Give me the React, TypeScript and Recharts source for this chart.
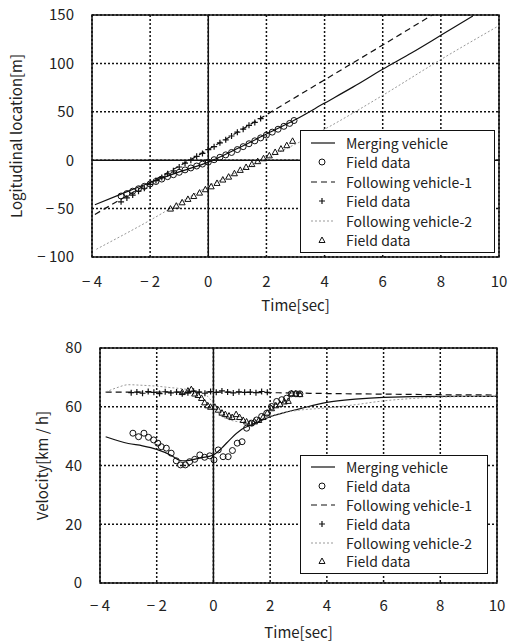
import React from 'react';
import {
  ComposedChart, Line, Scatter, XAxis, YAxis, CartesianGrid, ReferenceLine, ReferenceArea,
} from 'recharts';

const FONT = '"Noto Sans CJK JP", "Noto Sans", sans-serif';
const timeTicks = [-4, -2, 0, 2, 4, 6, 8, 10];
const locTicks = [-100, -50, 0, 50, 100, 150];
const velTicks = [0, 20, 40, 60, 80];

// --- Longitudinal location [m] ---
const mergingPosT = [-3.9, -3, -2, -1, 0, 1, 2, 3, 4, 5, 6, 7, 8, 9.1];
const mergingPos = [-46, -35, -23, -12, -2, 12, 27, 42, 59, 76, 94, 111, 129, 149];
const follow1PosT = [-3.9, -2, 0, 2, 4, 6, 7.7];
const follow1Pos = [-56, -23, 11, 47, 83, 119, 150];
const follow2PosT = [-3.85, -2, 0, 2, 4, 6, 8, 10];
const follow2Pos = [-92, -62, -27, 2, 32, 67, 104, 139];

const circlePosT = [-3.0, -2.8, -2.6, -2.4, -2.2, -2.0, -1.8, -1.6, -1.4, -1.2, -1.0, -0.8, -0.6, -0.4, -0.2, 0, 0.2, 0.4, 0.6, 0.8, 1.0, 1.2, 1.4, 1.6, 1.8, 2.0, 2.2, 2.4, 2.6, 2.8, 2.95];
const circlePos = [-37, -34.5, -32, -29.5, -27, -24.5, -22, -19.5, -17, -15, -12.5, -10, -8, -6, -4, -2, 0.5, 3, 5.5, 8, 11, 14, 17, 20, 23, 26, 29, 32, 35, 38, 41];
const plusPosT = [-3.0, -2.8, -2.6, -2.4, -2.2, -2.0, -1.8, -1.6, -1.4, -1.2, -1.0, -0.8, -0.6, -0.4, -0.2, 0, 0.2, 0.4, 0.6, 0.8, 1.0, 1.2, 1.4, 1.6, 1.8];
const plusPos = [-43, -39, -36, -32, -29, -25, -21, -18, -14, -11, -7, -3, 0, 4, 7, 11, 14, 18, 21, 25, 29, 32, 36, 39, 43];
const triPosT = [-1.3, -1.1, -0.9, -0.7, -0.5, -0.3, -0.1, 0.1, 0.3, 0.5, 0.7, 0.9, 1.1, 1.3, 1.5, 1.7, 1.9, 2.1, 2.3, 2.5, 2.7, 2.9];
const triPos = [-50, -47, -43.5, -40, -37, -33.5, -30, -27, -23.5, -20, -17, -13.5, -10, -7, -4, -1, 2, 5, 8.5, 12, 15.5, 20];

// --- Velocity [km/h] ---
const mergingVelT = [-3.8, -3, -2.5, -2, -1.5, -1.2, -1, -0.5, 0, 0.3, 0.6, 1, 1.5, 2, 2.5, 3, 4, 5, 6, 8, 10];
const mergingVel = [49.8, 47.5, 46.7, 45.5, 43.5, 41.8, 41.6, 42.5, 43.6, 46, 49, 52.3, 54.5, 56.6, 58, 59.2, 61.5, 62.6, 63.2, 63.5, 63.5];
const follow1VelT = [-3.8, -2, 0, 2, 4, 6, 8, 10];
const follow1Vel = [65, 65, 65, 64.8, 64.5, 64.3, 64.1, 64];
const follow2VelT = [-3.8, -3.4, -3.0, -2.5, -2, -1.5, -1, -0.5, -0.2, 0, 0.2, 0.5, 0.8, 1.0, 1.5, 2, 2.5, 3, 4, 5, 6, 7, 8, 10];
const follow2Vel = [65, 66.5, 67.5, 67.3, 67, 66.5, 66, 65, 63.5, 61, 57.5, 55.8, 55, 54.8, 55.3, 56.8, 58, 58.8, 59.6, 60.7, 62, 62.8, 63.3, 63.6];

const circleVelT = [-2.84, -2.64, -2.45, -2.29, -2.11, -1.96, -1.84, -1.66, -1.49, -1.31, -1.16, -0.99, -0.84, -0.66, -0.48, -0.31, -0.13, 0.02, 0.17, 0.34, 0.52, 0.67, 0.84, 1.01, 1.17, 1.35, 1.52, 1.7, 1.88, 2.05, 2.23, 2.41, 2.58, 2.74, 2.91, 3.05];
const circleVel = [51, 49.8, 51, 49.6, 48.7, 47.6, 46.4, 45.9, 44.2, 41.6, 40.2, 40.2, 41.3, 42.1, 43.6, 42.8, 43.3, 41.9, 45.3, 43, 43, 45.1, 47.6, 48.1, 52.7, 54.4, 55.5, 56.7, 57.8, 60.1, 61.8, 62.4, 62.9, 64.4, 64.4, 64.4];
const plusVelT = [-2.9, -2.7, -2.5, -2.3, -2.1, -1.9, -1.7, -1.5, -1.3, -1.1, -0.9, -0.7, -0.5, -0.3, -0.1, 0.1, 0.3, 0.5, 0.7, 0.9, 1.1, 1.3, 1.5, 1.7, 1.9];
const plusVel = [64.8, 65, 64.6, 65.2, 64.9, 64.5, 65.1, 64.7, 65, 64.4, 64.8, 65.3, 65, 64.6, 65.2, 64.9, 65.4, 65, 64.7, 65.1, 64.9, 65, 64.8, 65.2, 64.9];
const triVelT = [-1.1, -0.9, -0.78, -0.66, -0.54, -0.42, -0.31, -0.2, -0.1, 0.05, 0.17, 0.3, 0.42, 0.55, 0.66, 0.8, 0.92, 1.05, 1.17, 1.3, 1.45, 1.6, 1.75, 1.9, 2.05, 2.2, 2.35, 2.5, 2.64, 2.76, 2.9, 3.05];
const triVel = [65, 65.5, 66, 64.5, 64, 63, 61.5, 60.5, 60, 60, 59, 58, 57.5, 57, 56.5, 57.5, 56.5, 55.5, 55, 54.5, 55, 55.5, 56.5, 58, 59.5, 60.5, 61, 61.8, 62, 64.6, 64.5, 64.3];

const legendNames = ['Merging vehicle', 'Field data', 'Following vehicle-1', 'Field data', 'Following vehicle-2', 'Field data'];

const zip = (t: number[], v: number[]) => t.map((x, i) => ({ t: x, v: v[i] }));
const fmt = (v: number) => (v < 0 ? `− ${Math.abs(v)}` : `${v}`);

const Circ = (p: any) => <circle cx={p.cx} cy={p.cy} r={3} fill="none" stroke="#111" strokeWidth={1} />;
const Plus = (p: any) => (
  <path d={`M${p.cx - 3},${p.cy}h6M${p.cx},${p.cy - 3}v6`} stroke="#111" strokeWidth={1.2} />
);
const Tri = (p: any) => (
  <path d={`M${p.cx},${p.cy - 3}L${p.cx + 3},${p.cy + 2.5}L${p.cx - 3},${p.cy + 2.5}Z`} fill="none" stroke="#111" strokeWidth={1} />
);

const Sample = ({ i }: { i: number }) => (
  <svg width={28} height={12} style={{ display: 'block' }}>
    {i === 0 && <line x1={2} y1={6} x2={26} y2={6} stroke="#111" strokeWidth={1.2} />}
    {i === 2 && <line x1={2} y1={6} x2={26} y2={6} stroke="#111" strokeWidth={1.2} strokeDasharray="6 4" />}
    {i === 4 && <line x1={2} y1={6} x2={26} y2={6} stroke="#999" strokeWidth={1} strokeDasharray="2 2" />}
    {i === 1 && <Circ cx={13} cy={6} />}
    {i === 3 && <Plus cx={13} cy={6} />}
    {i === 5 && <Tri cx={13} cy={6} />}
  </svg>
);

const LegendBox = ({ left, top, width, rowH }: { left: number; top: number; width: number; rowH: number }) => (
  <div style={{
    position: 'absolute', left, top, width, boxSizing: 'border-box', border: '1.5px solid #111', background: '#fff',
    padding: '2px 0 2px 8px', fontFamily: FONT, fontSize: 14, color: '#222', lineHeight: 1,
  }}>
    {legendNames.map((n, i) => (
      <div key={i} style={{ display: 'flex', alignItems: 'center', height: rowH }}>
        <Sample i={i} />
        <span style={{ marginLeft: 9, whiteSpace: 'nowrap' }}>{n}</span>
      </div>
    ))}
  </div>
);

type Pt = { t: number; v: number };
type PanelProps = {
  height: number;
  margin: { top: number; right: number; bottom: number; left: number };
  yWidth: number;
  xHeight: number;
  yDomain: [number, number];
  yTicks: number[];
  yTitle: string;
  yTitleX: number;
  xTitleOffset: number;
  tickMarginX: number;
  zeroLine: boolean;
  merging: Pt[];
  follow1: Pt[];
  follow2: Pt[];
  circles: Pt[];
  pluses: Pt[];
  tris: Pt[];
};

const Panel = (p: PanelProps) => (
  <ComposedChart width={511} height={p.height} margin={p.margin} style={{ fontFamily: FONT }}>
    <CartesianGrid stroke="#111" strokeDasharray="2 2" strokeWidth={1.5} />
    <XAxis
      type="number" dataKey="t" domain={[-4, 10]} ticks={timeTicks} tickFormatter={fmt}
      allowDataOverflow axisLine={false} tickLine={false} tickSize={0} tickMargin={p.tickMarginX}
      height={p.xHeight} tick={{ fill: '#222', fontSize: 15 }}
      label={{ value: 'Time[sec]', position: 'insideBottom', offset: p.xTitleOffset, fill: '#222', fontSize: 15 }}
    />
    <YAxis
      type="number" domain={p.yDomain} ticks={p.yTicks} tickFormatter={fmt} allowDataOverflow
      axisLine={false} tickLine={false} tickSize={0} tickMargin={18} width={p.yWidth}
      tick={{ fill: '#222', fontSize: 15 }}
      label={{ value: p.yTitle, angle: -90, position: 'insideLeft', offset: p.yTitleX, fill: '#222', fontSize: 15, style: { textAnchor: 'middle' } }}
    />
    <ReferenceLine x={0} stroke="#111" strokeWidth={1.5} />
    {p.zeroLine && <ReferenceLine y={0} stroke="#111" strokeWidth={1.5} />}
    <Line data={p.merging} dataKey="v" stroke="#111" strokeWidth={1.2} dot={false} isAnimationActive={false} type="monotone" />
    <Line data={p.follow1} dataKey="v" stroke="#111" strokeWidth={1.2} strokeDasharray="6 4" dot={false} isAnimationActive={false} type="monotone" />
    <Line data={p.follow2} dataKey="v" stroke="#999" strokeWidth={1} strokeDasharray="2 2" dot={false} isAnimationActive={false} type="monotone" />
    <Scatter data={p.circles} dataKey="v" shape={Circ} isAnimationActive={false} />
    <Scatter data={p.pluses} dataKey="v" shape={Plus} isAnimationActive={false} />
    <Scatter data={p.tris} dataKey="v" shape={Tri} isAnimationActive={false} />
    <ReferenceArea x1={-4} x2={10} y1={p.yDomain[0]} y2={p.yDomain[1]} fill="none" stroke="#111" strokeWidth={1.5} ifOverflow="visible" />
  </ComposedChart>
);

export default function App() {
  return (
    <div style={{ position: 'absolute', left: 0, top: 0, width: 511, height: 641, background: '#fff' }}>
      <div style={{ position: 'absolute', left: 0, top: 0 }}>
        <Panel
          height={320}
          margin={{ top: 15, right: 12, bottom: 0, left: 0 }}
          yWidth={92}
          xHeight={63}
          yDomain={[-100, 150]}
          yTicks={locTicks}
          yTitle="Logitudinal location[m]"
          yTitleX={17}
          xTitleOffset={9}
          tickMarginX={19}
          zeroLine
          merging={zip(mergingPosT, mergingPos)}
          follow1={zip(follow1PosT, follow1Pos)}
          follow2={zip(follow2PosT, follow2Pos)}
          circles={zip(circlePosT, circlePos)}
          pluses={zip(plusPosT, plusPos)}
          tris={zip(triPosT, triPos)}
        />
        <LegendBox left={300} top={130} width={195} rowH={19.5} />
      </div>
      <div style={{ position: 'absolute', left: 0, top: 320 }}>
        <Panel
          height={321}
          margin={{ top: 28, right: 14, bottom: 0, left: 0 }}
          yWidth={100}
          xHeight={58}
          yDomain={[0, 80]}
          yTicks={velTicks}
          yTitle="Velocity[km / h]"
          yTitleX={43}
          xTitleOffset={3}
          tickMarginX={17}
          zeroLine={false}
          merging={zip(mergingVelT, mergingVel)}
          follow1={zip(follow1VelT, follow1Vel)}
          follow2={zip(follow2VelT, follow2Vel)}
          circles={zip(circleVelT, circleVel)}
          pluses={zip(plusVelT, plusVel)}
          tris={zip(triVelT, triVel)}
        />
        <LegendBox left={300} top={135} width={188} rowH={18.8} />
      </div>
    </div>
  );
}
